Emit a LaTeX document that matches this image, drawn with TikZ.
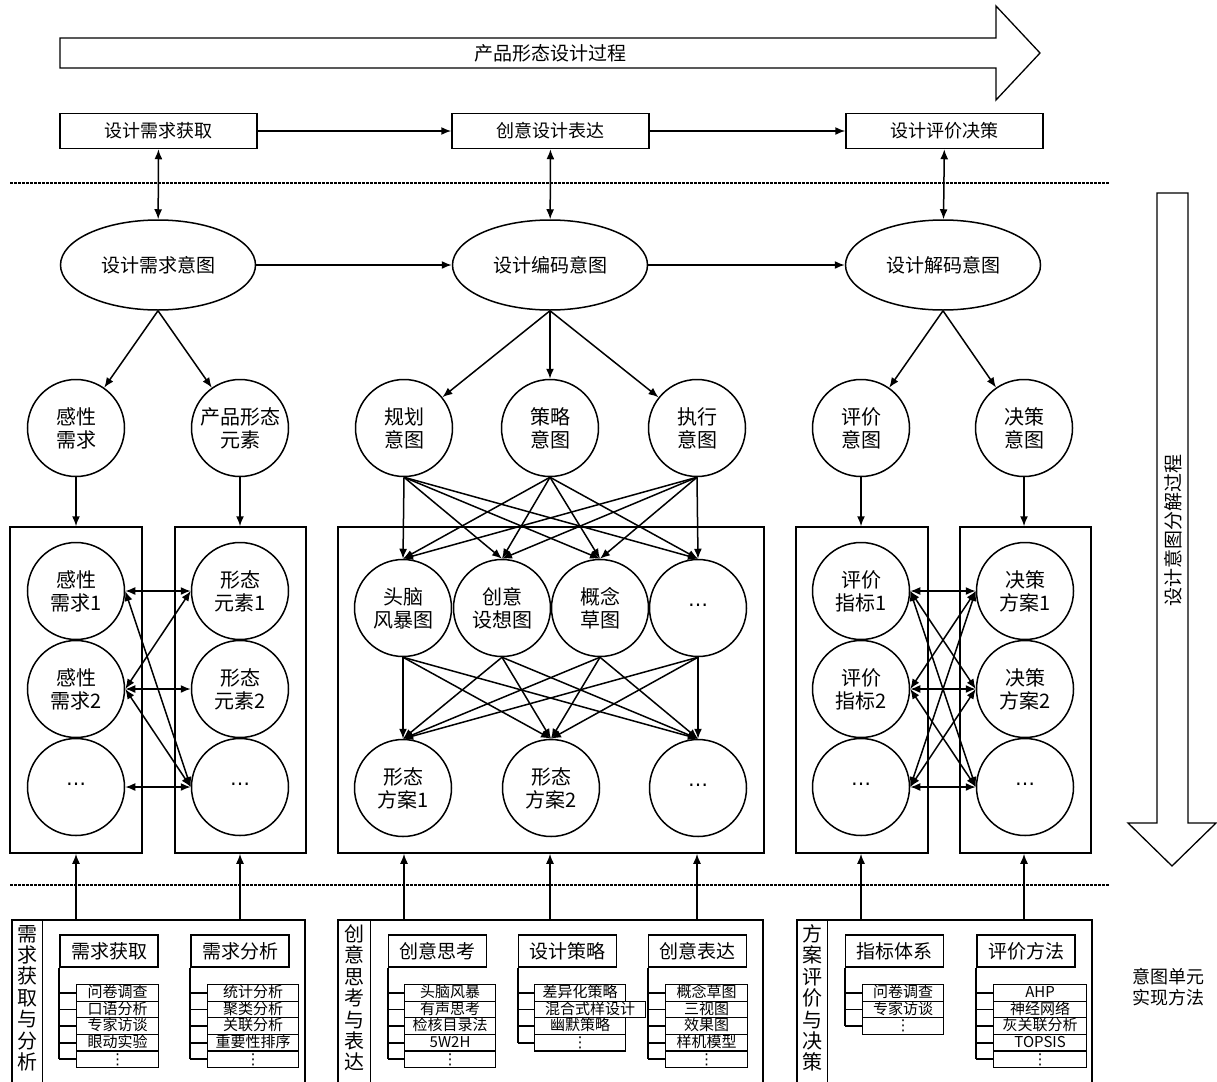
\documentclass[tikz,border=0pt]{standalone}
\usepackage{fontspec}
\setmainfont{Noto Sans CJK SC}
\newfontfamily\dejavu{DejaVu Sans}
\usetikzlibrary{arrows.meta,shapes.geometric}
\newcommand{\itemlist}[6]{%
  \foreach \itm [count=\i] in {#6} {%
    \pgfmathsetmacro{\yy}{984+16.6*(\i-1)}%
    \node[item,minimum width=#4pt,anchor=north west] (#1-\i) at (#3,\yy) {\itm};%
    \draw[tree] (#2.south west |- #1-\i.west) -- (#1-\i.west);%
  }%
  \draw[tree] (#2.south west) -- (#2.south west |- #1-#5.west);%
}
\begin{document}
\begin{tikzpicture}[x=1pt,y=-1pt,
  lw/.style={line width=1.5pt},
  arr/.style={lw,-{Latex[length=10pt,width=8pt]}},
  darr/.style={lw,{Latex[length=10pt,width=8pt]}-{Latex[length=10pt,width=8pt]}},
  topbox/.style={draw,lw,minimum width=197pt,minimum height=35pt,inner sep=0pt,font=\fontsize{18}{20}\selectfont},
  ell/.style={ellipse,draw,lw,minimum width=195pt,minimum height=90pt,inner sep=0pt,font=\fontsize{19}{20}\selectfont},
  circ/.style={circle,draw,lw,minimum size=97pt,inner sep=0pt,align=center,font=\fontsize{20}{23}\selectfont},
  frame/.style={draw,lw,inner sep=0pt},
  hdr/.style={draw,line width=1.8pt,minimum width=98pt,minimum height=32pt,inner sep=0pt,font=\fontsize{19}{20}\selectfont},
  item/.style={draw,line width=1.2pt,minimum height=16.6pt,inner sep=0pt,text height=11.5pt,text depth=2pt,font=\fontsize{15}{15}\selectfont},
  tree/.style={line width=1.8pt},
  sepline/.style={line width=1.2pt,dash pattern=on 2.5pt off 1.5pt},
  bigarrow/.style={line width=1.3pt},
  vlabel/.style={align=center,inner sep=0pt,font=\fontsize{20}{21.4}\selectfont}
]
\useasboundingbox (0,0) rectangle (1217,1081);

% big process arrow
\draw[bigarrow] (60,38) -- (996,38) -- (996,6) -- (1040,53) -- (996,100) -- (996,68) -- (60,68) -- cycle;
\node[font=\fontsize{19}{20}\selectfont] (proc) at (550,53) {产品形态设计过程};

% decomposition arrow
\draw[bigarrow] (1157,193) -- (1188,193) -- (1188,823) -- (1216,823) -- (1172,866) -- (1128,823) -- (1157,823) -- cycle;
\node[rotate=90,font=\fontsize{19}{20}\selectfont] (decomp) at (1173,530) {设计意图分解过程};

% top boxes
\node[topbox] (T1) at (158.5,131) {设计需求获取};
\node[topbox] (T2) at (550.5,131) {创意设计表达};
\node[topbox] (T3) at (944.5,131) {设计评价决策};
\draw[arr] (T1) -- (T2);
\draw[arr] (T2) -- (T3);

\draw[sepline] (10,183) -- (1110,183);
\draw[sepline] (10,885) -- (1110,885);

% ellipses
\node[ell] (E1) at (158,265) {设计需求意图};
\node[ell] (E2) at (550,265) {设计编码意图};
\node[ell] (E3) at (943,265) {设计解码意图};
\draw[arr] (E1) -- (E2);
\draw[arr] (E2) -- (E3);
\draw[darr] (T1) -- (E1);
\draw[darr] (T2) -- (E2);
\draw[darr] (T3) -- (E3);

% first-row circles
\node[circ] (K1) at (76,428) {感性\\需求};
\node[circ] (K2) at (240,428) {产品形态\\元素};
\node[circ] (P1) at (404,428) {规划\\意图};
\node[circ] (P2) at (550,428) {策略\\意图};
\node[circ] (P3) at (697,428) {执行\\意图};
\node[circ] (R1) at (861,428) {评价\\意图};
\node[circ] (R2) at (1024,428) {决策\\意图};
\draw[arr] (E1.south) -- (K1);
\draw[arr] (E1.south) -- (K2);
\draw[arr] (E2.south) -- (P1);
\draw[arr] (E2.south) -- (P2);
\draw[arr] (E2.south) -- (P3);
\draw[arr] (E3.south) -- (R1);
\draw[arr] (E3.south) -- (R2);

% frames
\node[frame,minimum width=132pt,minimum height=326pt] (FR1) at (76,690) {};
\node[frame,minimum width=131pt,minimum height=326pt] (FR2) at (240.5,690) {};
\node[frame,minimum width=426pt,minimum height=326pt] (FR3) at (551,690) {};
\node[frame,minimum width=132pt,minimum height=326pt] (FR4) at (862,690) {};
\node[frame,minimum width=131pt,minimum height=326pt] (FR5) at (1025.5,690) {};
\draw[arr] (K1.south) -- (K1.south |- FR1.north);
\draw[arr] (K2.south) -- (K2.south |- FR2.north);
\draw[arr] (R1.south) -- (R1.south |- FR4.north);
\draw[arr] (R2.south) -- (R2.south |- FR5.north);

% left inner circles
\node[circ] (A1) at (76,591) {感性\\需求1};
\node[circ] (A2) at (76,689) {感性\\需求2};
\node[circ] (A3) at (76,787) {{\dejavu ⋯}};
\node[circ] (B1) at (240,591) {形态\\元素1};
\node[circ] (B2) at (240,689) {形态\\元素2};
\node[circ] (B3) at (240,787) {{\dejavu ⋯}};
\draw[darr] (A1.east) -- (B1.west);
\draw[darr] (A2.east) -- (B1.west);
\draw[darr] (A2.east) -- (B2.west);
\draw[darr] (A2.east) -- (B3.west);
\draw[darr] (A1.east) -- (B3.west);
\draw[darr] (A3.east) -- (B3.west);

% middle inner circles
\node[circ] (M1) at (403,608) {头脑\\风暴图};
\node[circ] (M2) at (502,608) {创意\\设想图};
\node[circ] (M3) at (600,608) {概念\\草图};
\node[circ] (M4) at (698,608) {{\dejavu ⋯}};
\node[circ] (F1) at (403,788) {形态\\方案1};
\node[circ] (F2) at (551,788) {形态\\方案2};
\node[circ] (F3) at (698,788) {{\dejavu ⋯}};
\foreach \s in {P1,P2,P3}
  \foreach \t in {M1,M2,M3,M4}
    \draw[arr] (\s.south) -- (\t.north);
\foreach \s in {M1,M2,M3,M4}
  \foreach \t in {F1,F2,F3}
    \draw[arr] (\s.south) -- (\t.north);

% right inner circles
\node[circ] (I1) at (861,591) {评价\\指标1};
\node[circ] (I2) at (861,689) {评价\\指标2};
\node[circ] (I3) at (861,787) {{\dejavu ⋯}};
\node[circ] (D1) at (1025,591) {决策\\方案1};
\node[circ] (D2) at (1025,689) {决策\\方案2};
\node[circ] (D3) at (1025,787) {{\dejavu ⋯}};
\foreach \s in {I1,I2,I3}
  \foreach \t in {D1,D2,D3}
    \draw[darr] (\s.east) -- (\t.west);

% method groups
\node[frame,minimum width=293pt,minimum height=175pt] (G1) at (158.5,1007.5) {};
\node[frame,minimum width=425pt,minimum height=175pt] (G2) at (550.5,1007.5) {};
\node[frame,minimum width=295pt,minimum height=175pt] (G3) at (944.5,1007.5) {};
\draw[lw] ([xshift=31pt]G1.north west) -- ([xshift=31pt]G1.south west);
\draw[lw] ([xshift=33pt]G2.north west) -- ([xshift=33pt]G2.south west);
\draw[lw] ([xshift=31pt]G3.north west) -- ([xshift=31pt]G3.south west);
\node[vlabel] (L1) at (27.5,998) {需\\求\\获\\取\\与\\分\\析};
\node[vlabel] (L2) at (354.5,998) {创\\意\\思\\考\\与\\表\\达};
\node[vlabel] (L3) at (812.5,998) {方\\案\\评\\价\\与\\决\\策};

\draw[arr] (K1 |- G1.north) -- (K1 |- FR1.south);
\draw[arr] (K2 |- G1.north) -- (K2 |- FR2.south);
\draw[arr] (P1 |- G2.north) -- (P1 |- FR3.south);
\draw[arr] (P2 |- G2.north) -- (P2 |- FR3.south);
\draw[arr] (P3 |- G2.north) -- (P3 |- FR3.south);
\draw[arr] (R1 |- G3.north) -- (R1 |- FR4.south);
\draw[arr] (R2 |- G3.north) -- (R2 |- FR5.south);

% headers
\node[hdr] (H1a) at (109,951) {需求获取};
\node[hdr] (H1b) at (240,951) {需求分析};
\node[hdr] (H2a) at (437.5,951) {创意思考};
\node[hdr] (H2b) at (567.5,951) {设计策略};
\node[hdr] (H2c) at (697.5,951) {创意表达};
\node[hdr] (H3a) at (894.5,951) {指标体系};
\node[hdr] (H3b) at (1026,951) {评价方法};

% lists
\itemlist{La}{H1a}{76}{82}{5}{问卷调查,口语分析,专家访谈,眼动实验,{\dejavu ⋮}}
\itemlist{Lb}{H1b}{207}{91}{5}{统计分析,聚类分析,关联分析,重要性排序,{\dejavu ⋮}}
\itemlist{Lc}{H2a}{404}{91}{5}{头脑风暴,有声思考,检核目录法,5W2H,{\dejavu ⋮}}
\itemlist{Le}{H2c}{665}{82}{5}{概念草图,三视图,效果图,样机模型,{\dejavu ⋮}}
\itemlist{Lf}{H3a}{862}{81}{3}{问卷调查,专家访谈,{\dejavu ⋮}}
\itemlist{Lg}{H3b}{993}{93}{5}{AHP,神经网络,灰关联分析,TOPSIS,{\dejavu ⋮}}

% design strategy list (one wider row)
\node[item,minimum width=91pt,anchor=north west] (Ld-1) at (534,984) {差异化策略};
\node[item,minimum width=111pt,anchor=north west] (Ld-2) at (534,1000.6) {混合式样设计};
\node[item,minimum width=91pt,anchor=north west] (Ld-3) at (534,1017.2) {幽默策略};
\node[item,minimum width=91pt,anchor=north west] (Ld-4) at (534,1033.8) {{\dejavu ⋮}};
\foreach \k in {1,2,3,4}
  \draw[tree] (H2b.south west |- Ld-\k.west) -- (Ld-\k.west);
\draw[tree] (H2b.south west) -- (H2b.south west |- Ld-4.west);

\node[align=left,inner sep=0pt,font=\fontsize{18}{21}\selectfont] (impl) at (1168,987) {意图单元\\实现方法};
\end{tikzpicture}
\end{document}
